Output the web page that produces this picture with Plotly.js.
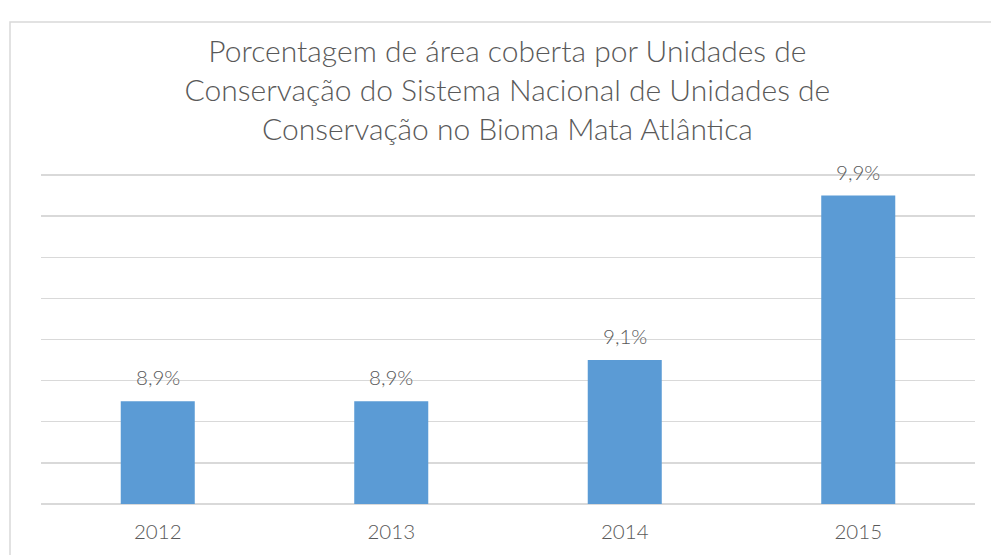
<!DOCTYPE html>
<html>
<head>
<meta charset="utf-8">
<script src="https://cdn.plot.ly/plotly-3.0.1.min.js"></script>
<style>html,body{margin:0;padding:0;background:#fff;}#chart{width:991px;height:555px;}</style>
</head>
<body>
<div id="chart"></div>
<script>
const categories = ["2012", "2013", "2014", "2015"];
const values = [8.9, 8.9, 9.1, 9.9];
const titleLines = [
  "Porcentagem de área coberta por Unidades de",
  "Conservação do Sistema Nacional de Unidades de",
  "Conservação no Bioma Mata Atlântica"
];

const FONT = "Lato, 'Open Sans', sans-serif";
const GREY = "#595959";
const AXIS_FLOOR = 8.4;
const xpos = categories.map((c, i) => i);

const trace = {
  type: "bar",
  x: xpos,
  y: values.map(v => v - AXIS_FLOOR),
  base: AXIS_FLOOR,
  marker: {color: "#5b9bd5"},
  width: 0.317,
  hoverinfo: "skip"
};

const annotations = xpos.map((x, i) => ({
  x: x, y: values[i], xref: "x", yref: "y",
  text: values[i].toFixed(1).replace(".", ",") + "%",
  showarrow: false, yanchor: "bottom", yshift: 10,
  font: {family: FONT, size: 20.5, color: GREY, weight: 300}
}));

const layout = {
  width: 991, height: 555,
  margin: {l: 41, r: 16, t: 173, b: 49, pad: 0},
  paper_bgcolor: "#ffffff",
  plot_bgcolor: "#ffffff",
  showlegend: false,
  title: {
    text: titleLines.join("<br>"),
    font: {family: FONT, size: 30, color: GREY, weight: 300},
    x: 0.512, xanchor: "center",
    yref: "container", y: 1 - 62/555, yanchor: "middle"
  },
  xaxis: {
    range: [-0.5, 3.5],
    tickmode: "array", tickvals: xpos, ticktext: categories,
    showgrid: false, zeroline: false, showline: false,
    ticks: "outside", ticklen: 7, tickcolor: "rgba(0,0,0,0)",
    tickfont: {family: FONT, size: 20.5, color: GREY, weight: 300}
  },
  yaxis: {
    range: [8.39, 10.01],
    tick0: 8.4, dtick: 0.2,
    showticklabels: false,
    showgrid: true, gridcolor: "#d9d9d9", gridwidth: 1.5,
    zeroline: false, showline: false
  },
  annotations: annotations,
  shapes: [{
    type: "rect", xref: "paper", yref: "paper",
    x0: (10 - 41) / 934, x1: 1.2, y0: -0.3, y1: (506 - 22) / 333,
    line: {color: "#d9d9d9", width: 1.5}, fillcolor: "rgba(0,0,0,0)", layer: "below"
  }]
};

Plotly.newPlot("chart", [trace], layout, {displayModeBar: false, staticPlot: true});
</script>
</body>
</html>
